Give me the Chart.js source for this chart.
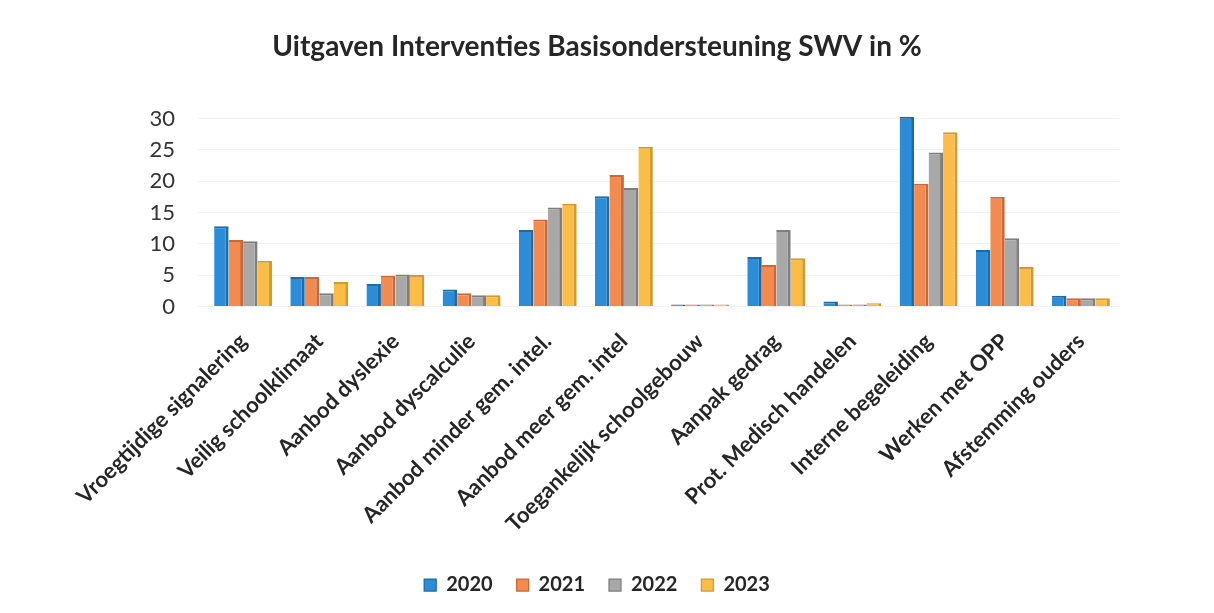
<!DOCTYPE html>
<html>
<head>
<meta charset="utf-8">
<script src="https://cdn.jsdelivr.net/npm/chart.js@4"></script>
<style>
  html, body { margin: 0; padding: 0; background: #fff; }
  #wrap { width: 1214px; height: 613px; }
</style>
</head>
<body>
<div id="wrap"><canvas id="uitgavenChart"></canvas></div>
<script>
var categories = [
  'Vroegtijdige signalering',
  'Veilig schoolklimaat',
  'Aanbod dyslexie',
  'Aanbod dyscalculie',
  'Aanbod minder gem. intel.',
  'Aanbod meer gem. intel',
  'Toegankelijk schoolgebouw',
  'Aanpak gedrag',
  'Prot. Medisch handelen',
  'Interne begeleiding',
  'Werken met OPP',
  'Afstemming ouders'
];
var years = ['2020', '2021', '2022', '2023'];
var values2020 = [12.8, 4.7, 3.6, 2.7, 12.2, 17.6, 0.3, 7.9, 0.8, 30.3, 9.0, 1.7];
var values2021 = [10.6, 4.7, 4.9, 2.1, 13.9, 21.0, 0.3, 6.6, 0.3, 19.6, 17.5, 1.3];
var values2022 = [10.4, 2.1, 5.1, 1.8, 15.8, 18.9, 0.3, 12.2, 0.3, 24.6, 10.9, 1.3];
var values2023 = [7.3, 3.9, 5.0, 1.8, 16.4, 25.5, 0.3, 7.7, 0.5, 27.8, 6.3, 1.3];
var yTicks = [0, 5, 10, 15, 20, 25, 30];

var fills = ['#2b8dd8', '#f38b4f', '#a8a8a8', '#fbbd47'];
var edges = ['#1c6aa8', '#c8693a', '#7e7e7e', '#d49a2e'];
var series = [values2020, values2021, values2022, values2023];

var datasets = [];
for (var i = 0; i < years.length; i++) {
  datasets.push({
    label: years[i],
    data: series[i],
    backgroundColor: fills[i],
    borderColor: edges[i],
    borderWidth: { top: 2, right: 3, left: 0, bottom: 0 },
    borderSkipped: false,
    categoryPercentage: 0.76,
    barPercentage: 1.0,
    clip: 10
  });
}

var ctx = document.getElementById('uitgavenChart').getContext('2d');
new Chart(ctx, {
  type: 'bar',
  data: { labels: categories, datasets: datasets },
  options: {
    responsive: true,
    maintainAspectRatio: false,
    animation: false,
    layout: { padding: { left: 75, right: 95, top: 22, bottom: 8 } },
    plugins: {
      title: {
        display: true,
        text: 'Uitgaven Interventies Basisondersteuning SWV in %',
        color: '#262626',
        font: { family: 'Lato', size: 28, weight: 'bold' },
        padding: { top: 8, bottom: 55 }
      },
      legend: {
        position: 'bottom',
        labels: {
          color: '#262626',
          font: { family: 'Lato', size: 20, weight: 'bold' },
          boxWidth: 12,
          boxHeight: 12,
          padding: 24
        }
      },
      tooltip: { enabled: false }
    },
    scales: {
      x: {
        grid: { display: false },
        border: { display: false },
        ticks: {
          color: '#262626',
          font: { family: 'Lato', size: 22, weight: 'bold' },
          minRotation: 45,
          maxRotation: 45,
          padding: 14
        }
      },
      y: {
        min: 0,
        max: 30,
        afterBuildTicks: function (axis) {
          axis.ticks = yTicks.map(function (v) { return { value: v }; });
        },
        afterFit: function (axis) {
          axis.width = 130;
        },
        grid: { color: 'rgba(0,0,0,0.05)' },
        border: { display: false },
        ticks: {
          color: '#333333',
          font: { family: 'Lato', size: 22 },
          padding: 22
        }
      }
    }
  }
});
</script>
</body>
</html>
